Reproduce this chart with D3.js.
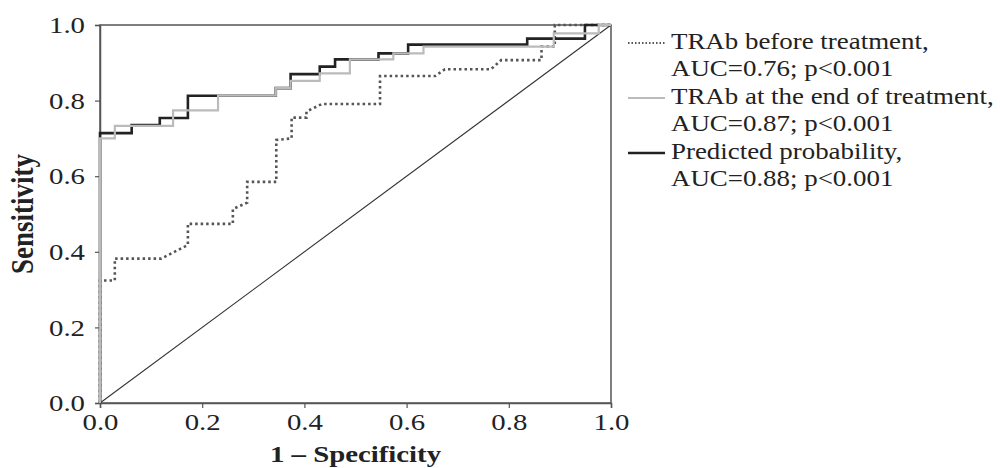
<!DOCTYPE html>
<html>
<head>
<meta charset="utf-8">
<script src="https://cdn.jsdelivr.net/npm/d3@7"></script>
<style>
  body { margin: 0; background: #fff; }
  text { font-family: "Liberation Serif", "Times New Roman", serif; fill: #222; }
</style>
</head>
<body>
<svg width="1000" height="468"></svg>
<script>
// ROC points (1 - specificity, sensitivity)
var fprBefore = [0, 0, 0.029, 0.029, 0.12, 0.172, 0.172, 0.26, 0.26, 0.288, 0.288, 0.345, 0.345, 0.375, 0.375, 0.404, 0.404, 0.434, 0.548, 0.548, 0.656, 0.675, 0.765, 0.785, 0.864, 0.864, 0.89, 0.89, 1];
var tprBefore = [0, 0.324, 0.324, 0.382, 0.382, 0.418, 0.474, 0.474, 0.513, 0.53, 0.585, 0.585, 0.696, 0.70, 0.755, 0.755, 0.771, 0.791, 0.791, 0.865, 0.865, 0.883, 0.883, 0.907, 0.907, 0.943, 0.943, 1, 1];

var fprEnd = [0, 0, 0.029, 0.029, 0.143, 0.143, 0.231, 0.231, 0.344, 0.344, 0.373, 0.373, 0.43, 0.43, 0.489, 0.489, 0.574, 0.574, 0.633, 0.633, 0.888, 0.888, 0.976, 0.976, 1];
var tprEnd = [0, 0.70, 0.70, 0.733, 0.733, 0.774, 0.774, 0.813, 0.813, 0.833, 0.833, 0.852, 0.852, 0.872, 0.872, 0.909, 0.909, 0.925, 0.925, 0.943, 0.943, 0.978, 0.978, 1, 1];

var fprPred = [0, 0, 0.062, 0.062, 0.117, 0.117, 0.172, 0.172, 0.344, 0.344, 0.373, 0.373, 0.43, 0.43, 0.46, 0.46, 0.545, 0.545, 0.603, 0.603, 0.836, 0.836, 0.949, 0.949, 1];
var tprPred = [0, 0.714, 0.714, 0.735, 0.735, 0.754, 0.754, 0.813, 0.813, 0.833, 0.833, 0.870, 0.870, 0.890, 0.890, 0.909, 0.909, 0.925, 0.925, 0.948, 0.948, 0.964, 0.964, 1, 1];

var ticks = [0, 0.2, 0.4, 0.6, 0.8, 1.0];

var legendLabels = [
  ["TRAb before treatment,", "AUC=0.76; p<0.001"],
  ["TRAb at the end of treatment,", "AUC=0.87; p<0.001"],
  ["Predicted probability,", "AUC=0.88; p<0.001"]
];

var svg = d3.select('svg');
var pLeft = 100, pRight = 611, pTop = 25, pBottom = 403;
var stretch = 1.2; // the source image is widened horizontally

var x = d3.scaleLinear().domain([0, 1]).range([pLeft, pRight]);
var y = d3.scaleLinear().domain([0, 1]).range([pBottom, pTop]);

function pts(xs, ys) {
  return xs.map(function (v, i) { return [v, ys[i]]; });
}

var line = d3.line()
  .x(function (d) { return x(d[0]); })
  .y(function (d) { return y(d[1]); });

// frame
svg.append('rect')
  .attr('x', pLeft).attr('y', pTop)
  .attr('width', pRight - pLeft).attr('height', pBottom - pTop)
  .attr('fill', 'none').attr('stroke', '#555').attr('stroke-width', 1.5);

// axes
var xAxis = svg.append('g')
  .attr('transform', 'translate(0,' + pBottom + ')')
  .call(d3.axisBottom(x).tickValues(ticks).tickSize(5).tickFormat(d3.format('.1f')));
var yAxis = svg.append('g')
  .attr('transform', 'translate(' + pLeft + ',0)')
  .call(d3.axisLeft(y).tickValues(ticks).tickSize(5).tickFormat(d3.format('.1f')));

[xAxis, yAxis].forEach(function (g) {
  g.select('.domain').attr('stroke', '#555').attr('stroke-width', 1.5);
  g.selectAll('.tick line').attr('stroke', '#555').attr('stroke-width', 1.2);
  g.selectAll('.tick text')
    .style('font-family', '"Liberation Serif", serif')
    .style('font-size', '24px')
    .attr('fill', '#222');
});
xAxis.selectAll('.tick text')
  .attr('dy', null).attr('y', 27)
  .attr('transform', 'scale(' + stretch + ',1)');
yAxis.selectAll('.tick text')
  .attr('x', -15 / stretch)
  .attr('transform', 'scale(' + stretch + ',1)');

// reference diagonal
svg.append('path')
  .datum([[0, 0], [1, 1]])
  .attr('d', line)
  .attr('fill', 'none').attr('stroke', '#333').attr('stroke-width', 1.1);

// curves
svg.append('path')
  .datum(pts(fprBefore, tprBefore))
  .attr('d', line)
  .attr('fill', 'none').attr('stroke', '#555').attr('stroke-width', 2.6)
  .attr('stroke-dasharray', '2.5,3');

svg.append('path')
  .datum(pts(fprPred, tprPred))
  .attr('d', line)
  .attr('fill', 'none').attr('stroke', '#222').attr('stroke-width', 2.6);

svg.append('path')
  .datum(pts(fprEnd, tprEnd))
  .attr('d', line)
  .attr('fill', 'none').attr('stroke', '#bbb').attr('stroke-width', 2.2);

// axis titles
svg.append('text')
  .attr('transform', 'translate(' + ((pLeft + pRight) / 2) + ',462) scale(' + stretch + ',1)')
  .attr('text-anchor', 'middle')
  .style('font-size', '24px').style('font-weight', 'bold')
  .text('1 \u2013 Specificity');

svg.append('text')
  .attr('transform', 'translate(33,' + ((pTop + pBottom) / 2) + ') rotate(-90) scale(1,' + stretch + ')')
  .attr('text-anchor', 'middle')
  .style('font-size', '27px').style('font-weight', 'bold')
  .text('Sensitivity');

// legend
var styles = [
  { stroke: '#555', width: 2.2, dash: '1.5,2' },
  { stroke: '#bbb', width: 1.8, dash: null },
  { stroke: '#222', width: 2.6, dash: null }
];
var lg = svg.append('g');
legendLabels.forEach(function (lab, i) {
  var base = 49 + i * 55;
  lg.append('line')
    .attr('x1', 628).attr('x2', 665)
    .attr('y1', base - 6).attr('y2', base - 6)
    .attr('stroke', styles[i].stroke)
    .attr('stroke-width', styles[i].width)
    .attr('stroke-dasharray', styles[i].dash);
  lab.forEach(function (t, j) {
    lg.append('text')
      .attr('transform', 'translate(671,' + (base + j * 27) + ') scale(1.17,1)')
      .style('font-size', '23px')
      .text(t);
  });
});
</script>
</body>
</html>
